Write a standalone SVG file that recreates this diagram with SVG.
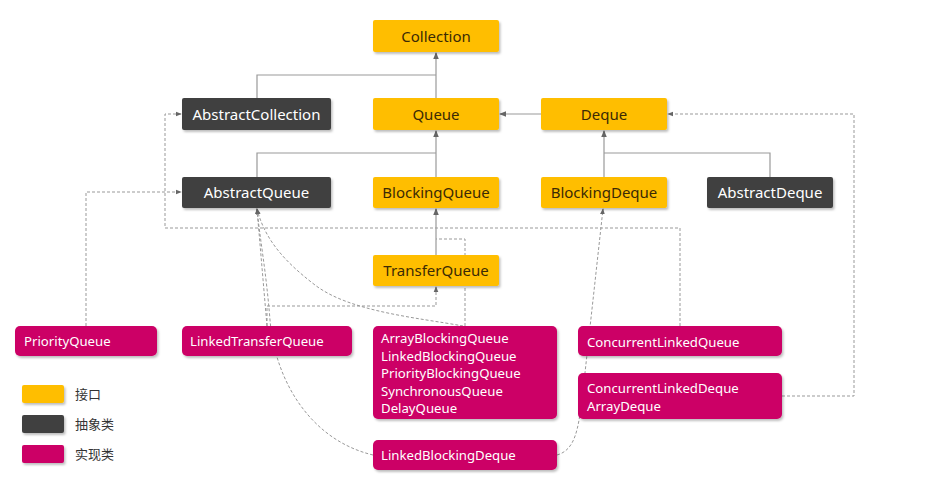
<svg xmlns="http://www.w3.org/2000/svg" width="931" height="484" viewBox="0 0 931 484">
<defs>
<filter id="sh" x="-10%" y="-20%" width="130%" height="160%"><feDropShadow dx="1.5" dy="2" stdDeviation="1.2" flood-color="#000" flood-opacity="0.25"/></filter>
<marker id="ar" viewBox="0 0 8 8" refX="7" refY="4" markerWidth="6" markerHeight="6" orient="auto"><path d="M0,0.8 L8,4 L0,7.2 z" fill="#666"/></marker>
</defs>
<style>
.y{fill:#FFBE00;filter:url(#sh)}
.d{fill:#3F3F3F;filter:url(#sh)}
.m{fill:#CC0066;filter:url(#sh)}
text{font-family:"Noto Sans","Open Sans",sans-serif;font-size:15px}
.ty{fill:#3b2a05}
.tw{fill:#fff}
.tm{fill:#fff;font-size:13.2px}
.tl{fill:#333;font-family:"Noto Sans CJK SC",sans-serif;font-size:13px}
.s{fill:none;stroke:#999;stroke-width:1.2}
.sa{fill:none;stroke:#999;stroke-width:1.2;marker-end:url(#ar)}
.da{fill:none;stroke:#999;stroke-width:1;stroke-dasharray:3 2;marker-end:url(#ar)}
.dn{fill:none;stroke:#999;stroke-width:1;stroke-dasharray:3 2}
</style>
<rect width="931" height="484" fill="#fff"/>
<g id="connectors">
<path class="sa" d="M436,98 V53"/>
<path class="s" d="M257,98 V75 H436"/>
<path class="sa" d="M541,114 H500"/>
<path class="sa" d="M436,177 V131"/>
<path class="s" d="M257,177 V153 H436"/>
<path class="sa" d="M604,177 V131"/>
<path class="s" d="M770,177 V153 H604"/>
<path class="sa" d="M436,255 V209"/>
<path class="da" d="M86,326 V192 H181"/>
<path class="da" d="M680,326 V228 H165 V114 H181"/>
<path class="da" d="M782,396 H854 V114 H668"/>
<path class="da" d="M267,326 V306 H436 V287"/>
<path class="da" d="M267,326 L257,209"/>
<path class="da" d="M373,455 C310,440 275,380 270,320 C266,270 260,240 257,209"/>
<path class="da" d="M463,326 C420,318 350,312 315,285 C285,262 265,240 257,209"/>
<path class="dn" d="M465,326 V239 H436"/>
<path class="da" d="M557,455 C575,450 578,430 582,400 L603,209"/>
</g>
<g id="Collection"><rect class="y" x="373" y="20" width="126" height="32" rx="2"/><text class="ty" x="436" y="41.5" text-anchor="middle">Collection</text></g>
<g id="AbstractCollection"><rect class="d" x="182" y="98" width="149" height="32" rx="2"/><text class="tw" x="256.5" y="119.5" text-anchor="middle">AbstractCollection</text></g>
<g id="Queue"><rect class="y" x="373" y="98" width="126" height="32" rx="2"/><text class="ty" x="436" y="119.5" text-anchor="middle">Queue</text></g>
<g id="Deque"><rect class="y" x="541" y="98" width="126" height="32" rx="2"/><text class="ty" x="604" y="119.5" text-anchor="middle">Deque</text></g>
<g id="AbstractQueue"><rect class="d" x="182" y="177" width="149" height="31" rx="2"/><text class="tw" x="256.5" y="198" text-anchor="middle">AbstractQueue</text></g>
<g id="BlockingQueue"><rect class="y" x="373" y="177" width="126" height="31" rx="2"/><text class="ty" x="436" y="198" text-anchor="middle">BlockingQueue</text></g>
<g id="BlockingDeque"><rect class="y" x="541" y="177" width="126" height="31" rx="2"/><text class="ty" x="604" y="198" text-anchor="middle">BlockingDeque</text></g>
<g id="AbstractDeque"><rect class="d" x="707" y="177" width="126" height="31" rx="2"/><text class="tw" x="770" y="198" text-anchor="middle">AbstractDeque</text></g>
<g id="TransferQueue"><rect class="y" x="373" y="255" width="126" height="31" rx="2"/><text class="ty" x="436" y="276" text-anchor="middle">TransferQueue</text></g>
<g id="PriorityQueue"><rect class="m" x="15" y="326" width="142" height="30" rx="5"/><text class="tm" x="24" y="346">PriorityQueue</text></g>
<g id="LinkedTransferQueue"><rect class="m" x="182" y="326" width="170" height="30" rx="5"/><text class="tm" x="190" y="346">LinkedTransferQueue</text></g>
<g id="BlockingQueues"><rect class="m" x="373" y="326" width="184" height="93" rx="5"/>
<text class="tm" x="381" y="343">ArrayBlockingQueue</text>
<text class="tm" x="381" y="360.5">LinkedBlockingQueue</text>
<text class="tm" x="381" y="378">PriorityBlockingQueue</text>
<text class="tm" x="381" y="395.5">SynchronousQueue</text>
<text class="tm" x="381" y="413">DelayQueue</text></g>
<g id="ConcurrentLinkedQueue"><rect class="m" x="578" y="326" width="204" height="30" rx="5"/><text class="tm" x="587" y="347">ConcurrentLinkedQueue</text></g>
<g id="ConcurrentLinkedDeque"><rect class="m" x="578" y="373" width="204" height="46" rx="5"/>
<text class="tm" x="587" y="393">ConcurrentLinkedDeque</text>
<text class="tm" x="587" y="411">ArrayDeque</text></g>
<g id="LinkedBlockingDeque"><rect class="m" x="373" y="440" width="184" height="30" rx="5"/><text class="tm" x="381" y="460">LinkedBlockingDeque</text></g>
<g id="legend">
<rect class="y" x="22" y="385" width="42" height="18" rx="2"/><text class="tl" x="75" y="399">接口</text>
<rect class="d" x="22" y="415" width="42" height="18" rx="2"/><text class="tl" x="75" y="429">抽象类</text>
<rect class="m" x="22" y="445" width="42" height="18" rx="2"/><text class="tl" x="75" y="459">实现类</text>
</g>
</svg>
